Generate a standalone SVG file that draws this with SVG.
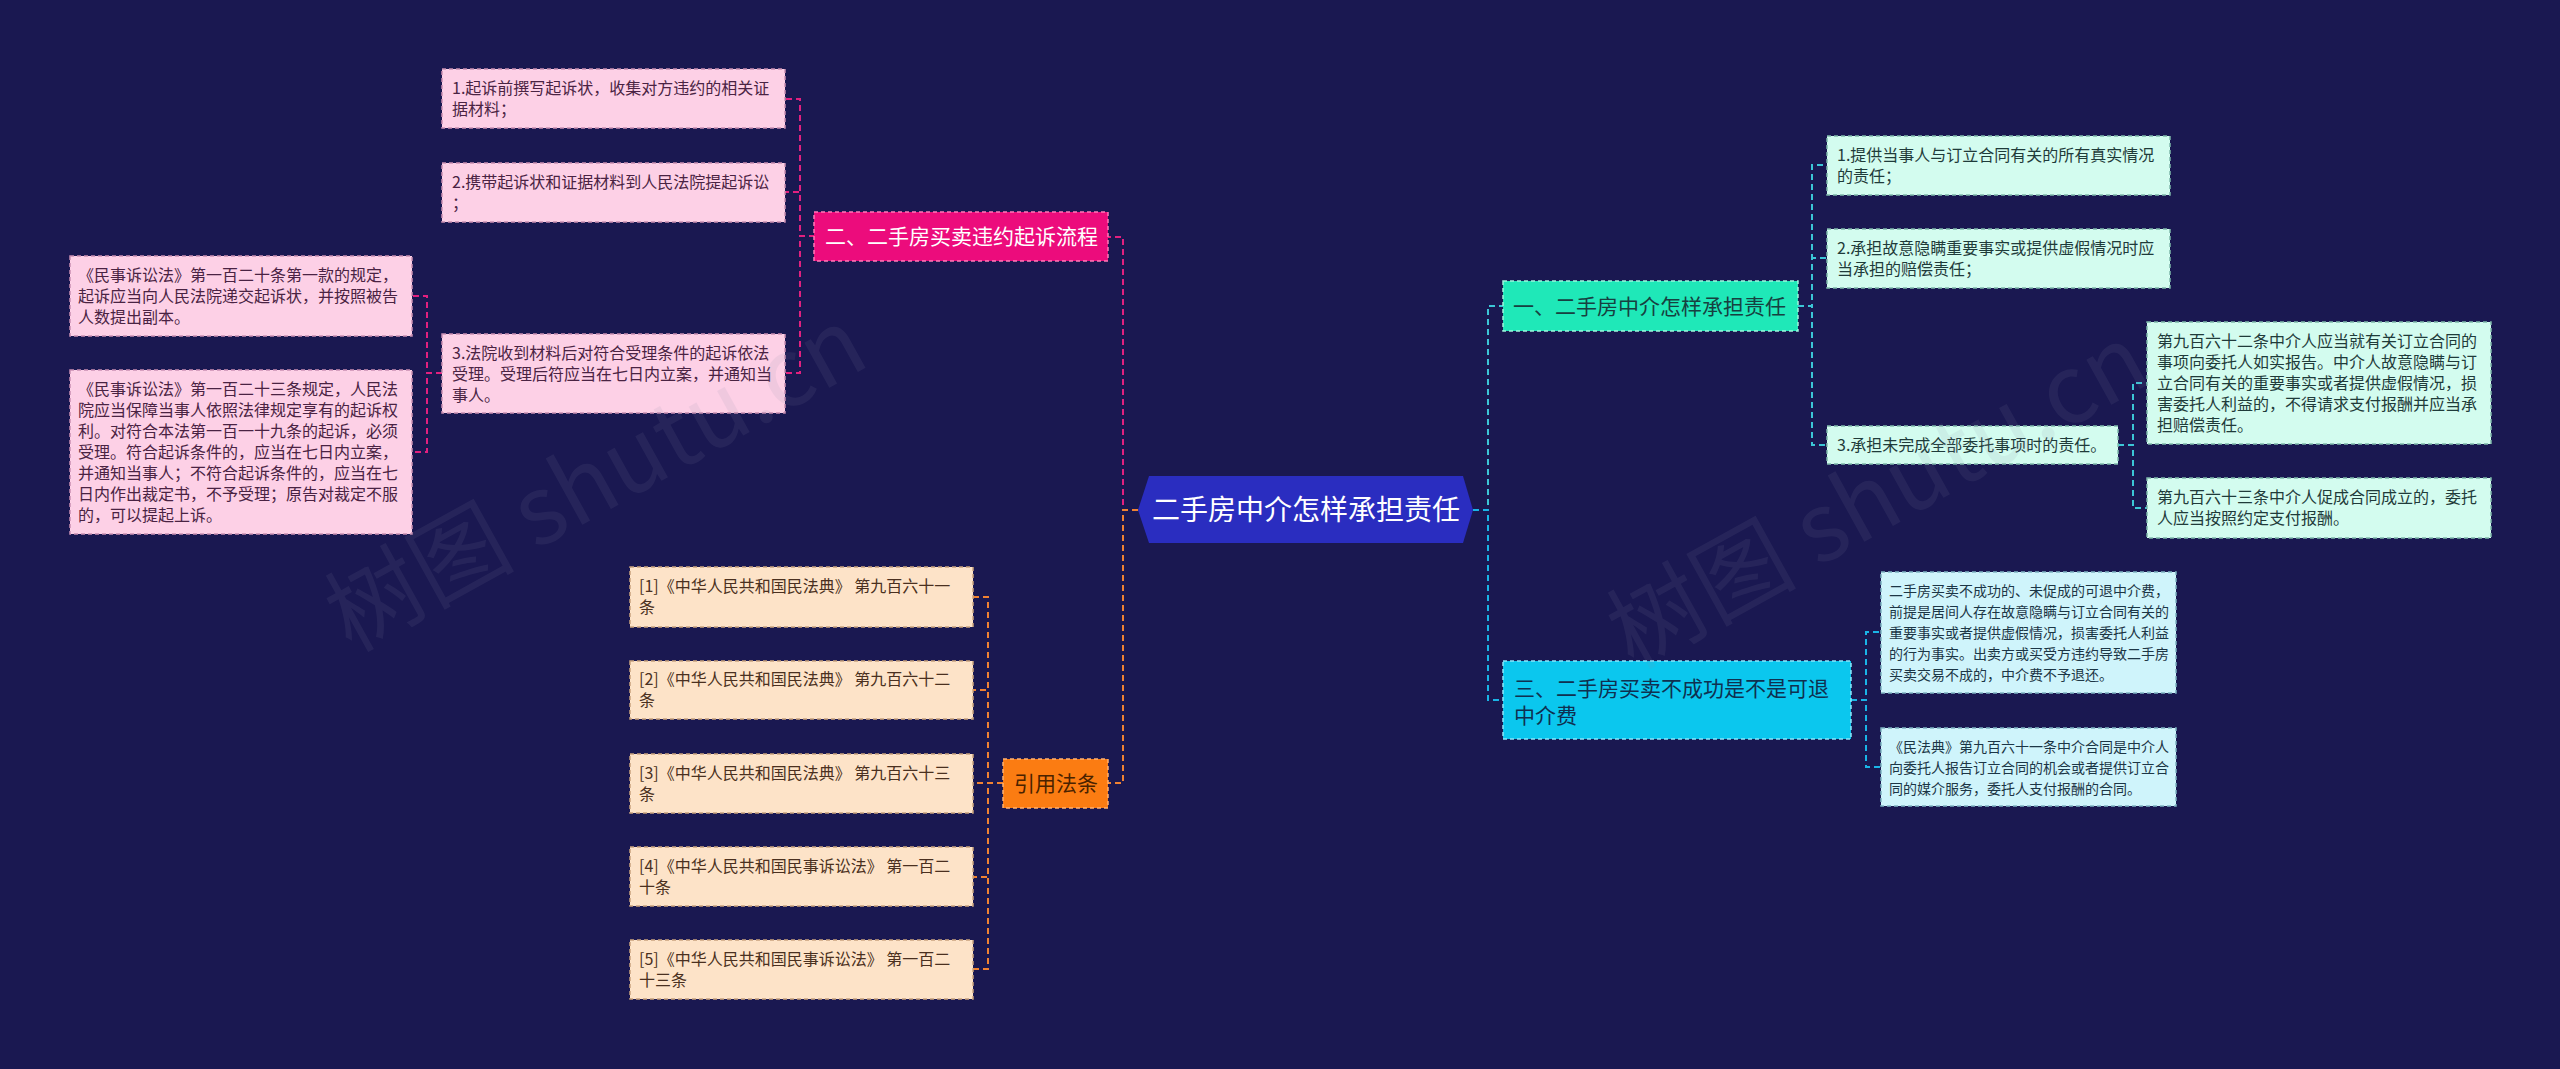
<svg xmlns="http://www.w3.org/2000/svg" width="2560" height="1069" viewBox="0 0 2560 1069">
<defs>
<style>
text{font-family:"Noto Sans CJK SC","Noto Sans",sans-serif;}
.s{font-size:16px;}
.xs{font-size:14px;}
.m{font-size:21px;}
.pk{fill:#fdd0e6;stroke:#c98fb3;stroke-width:1.5;stroke-dasharray:4 3;}
.pkt{fill:#4a2343;}
.or{fill:#fde3c8;stroke:#c9a37e;stroke-width:1.5;stroke-dasharray:4 3;}
.ort{fill:#4a3020;}
.mn{fill:#d3fcef;stroke:#7fb8aa;stroke-width:1.5;stroke-dasharray:4 3;}
.mnt{fill:#1f3b3a;}
.lb{fill:#cff4fb;stroke:#7fb2c2;stroke-width:1.5;stroke-dasharray:4 3;}
.lbt{fill:#1c3646;}
.c{fill:none;stroke-width:2;stroke-dasharray:6 4;}
.cp{stroke:#e2207f;}
.co{stroke:#f08232;}
.ct{stroke:#3cc6d6;}
.cb{stroke:#1ab4e6;}
.wm{font-size:95px;fill:#8a8aa8;opacity:0.11;}
</style>
</defs>
<rect x="0" y="0" width="2560" height="1069" fill="#1a1851"/>

<g id="connectors">
<path class="c cp" d="M1138,510 H1123 V237 H1108"/>
<path class="c co" d="M1138,510 H1123 V783 H1108"/>
<path class="c ct" d="M1473,510 H1488 V306 H1503"/>
<path class="c cb" d="M1473,510 H1488 V700 H1503"/>
<path class="c cp" d="M815,236 H800 V99 H785"/>
<path class="c cp" d="M815,236 H800 V192 H785"/>
<path class="c cp" d="M815,236 H800 V373 H785"/>
<path class="c cp" d="M442,373 H427 V296 H412"/>
<path class="c cp" d="M442,373 H427 V452 H412"/>
<path class="c co" d="M1003,783 H988 V597 H973"/>
<path class="c co" d="M1003,783 H988 V690 H973"/>
<path class="c co" d="M1003,783 H973"/>
<path class="c co" d="M1003,783 H988 V877 H973"/>
<path class="c co" d="M1003,783 H988 V969 H973"/>
<path class="c ct" d="M1798,306 H1812 V165 H1827"/>
<path class="c ct" d="M1798,306 H1812 V258 H1827"/>
<path class="c ct" d="M1798,306 H1812 V445 H1827"/>
<path class="c ct" d="M2118,445 H2133 V383 H2147"/>
<path class="c ct" d="M2118,445 H2133 V508 H2147"/>
<path class="c cb" d="M1851,700 H1866 V632 H1881"/>
<path class="c cb" d="M1851,700 H1866 V767 H1881"/>
</g>

<g id="root">
<polygon points="1138,510 1149,476 1463,476 1473,510 1463,543 1149,543" fill="#2a2dc0"/>
<text x="1306" y="520" font-size="28" fill="#ffffff" text-anchor="middle">二手房中介怎样承担责任</text>
</g>

<g id="n-pink">
<rect x="814" y="212" width="294" height="49" fill="#ec0c7c" stroke="#ff7ab8" stroke-width="1.5" stroke-dasharray="4 3"/>
<text class="m" x="825" y="244" fill="#ffffff">二、二手房买卖违约起诉流程</text>
</g>
<g id="p1">
<rect class="pk" x="442" y="69" width="343" height="59"/>
<text class="s pkt" x="452" y="94">1.起诉前撰写起诉状，收集对方违约的相关证</text>
<text class="s pkt" x="452" y="115">据材料；</text>
</g>
<g id="p2">
<rect class="pk" x="442" y="163" width="343" height="59"/>
<text class="s pkt" x="452" y="188">2.携带起诉状和证据材料到人民法院提起诉讼</text>
<text class="s pkt" x="452" y="209">；</text>
</g>
<g id="p3">
<rect class="pk" x="442" y="334" width="343" height="79"/>
<text class="s pkt" x="452" y="359">3.法院收到材料后对符合受理条件的起诉依法</text>
<text class="s pkt" x="452" y="380">受理。受理后符应当在七日内立案，并通知当</text>
<text class="s pkt" x="452" y="401">事人。</text>
</g>
<g id="pa">
<rect class="pk" x="70" y="256" width="342" height="80"/>
<text class="s pkt" x="78" y="281">《民事诉讼法》第一百二十条第一款的规定，</text>
<text class="s pkt" x="78" y="302">起诉应当向人民法院递交起诉状，并按照被告</text>
<text class="s pkt" x="78" y="323">人数提出副本。</text>
</g>
<g id="pb">
<rect class="pk" x="70" y="370" width="342" height="164"/>
<text class="s pkt" x="78" y="395">《民事诉讼法》第一百二十三条规定，人民法</text>
<text class="s pkt" x="78" y="416">院应当保障当事人依照法律规定享有的起诉权</text>
<text class="s pkt" x="78" y="437">利。对符合本法第一百一十九条的起诉，必须</text>
<text class="s pkt" x="78" y="458">受理。符合起诉条件的，应当在七日内立案，</text>
<text class="s pkt" x="78" y="479">并通知当事人；不符合起诉条件的，应当在七</text>
<text class="s pkt" x="78" y="500">日内作出裁定书，不予受理；原告对裁定不服</text>
<text class="s pkt" x="78" y="521">的，可以提起上诉。</text>
</g>

<g id="n-orange">
<rect x="1003" y="759" width="105" height="49" fill="#fb7c12" stroke="#ffb070" stroke-width="1.5" stroke-dasharray="4 3"/>
<text class="m" x="1014" y="791" fill="#4a2200">引用法条</text>
</g>
<g id="o1">
<rect class="or" x="630" y="567" width="343" height="60"/>
<text class="s ort" x="639" y="592">[1]《中华人民共和国民法典》 第九百六十一</text>
<text class="s ort" x="639" y="613">条</text>
</g>
<g id="o2">
<rect class="or" x="630" y="661" width="343" height="58"/>
<text class="s ort" x="639" y="685">[2]《中华人民共和国民法典》 第九百六十二</text>
<text class="s ort" x="639" y="706">条</text>
</g>
<g id="o3">
<rect class="or" x="630" y="754" width="343" height="59"/>
<text class="s ort" x="639" y="779">[3]《中华人民共和国民法典》 第九百六十三</text>
<text class="s ort" x="639" y="800">条</text>
</g>
<g id="o4">
<rect class="or" x="630" y="847" width="343" height="59"/>
<text class="s ort" x="639" y="872">[4]《中华人民共和国民事诉讼法》 第一百二</text>
<text class="s ort" x="639" y="893">十条</text>
</g>
<g id="o5">
<rect class="or" x="630" y="940" width="343" height="59"/>
<text class="s ort" x="639" y="965">[5]《中华人民共和国民事诉讼法》 第一百二</text>
<text class="s ort" x="639" y="986">十三条</text>
</g>

<g id="n-teal">
<rect x="1503" y="281" width="295" height="50" fill="#1fe8b8" stroke="#9ff5dc" stroke-width="1.5" stroke-dasharray="4 3"/>
<text class="m" x="1513" y="314" fill="#174040">一、二手房中介怎样承担责任</text>
</g>
<g id="t1">
<rect class="mn" x="1827" y="136" width="343" height="59"/>
<text class="s mnt" x="1837" y="161">1.提供当事人与订立合同有关的所有真实情况</text>
<text class="s mnt" x="1837" y="182">的责任；</text>
</g>
<g id="t2">
<rect class="mn" x="1827" y="229" width="343" height="59"/>
<text class="s mnt" x="1837" y="254">2.承担故意隐瞒重要事实或提供虚假情况时应</text>
<text class="s mnt" x="1837" y="275">当承担的赔偿责任；</text>
</g>
<g id="t3">
<rect class="mn" x="1827" y="426" width="291" height="38"/>
<text class="s mnt" x="1837" y="451">3.承担未完成全部委托事项时的责任。</text>
</g>
<g id="g1">
<rect class="mn" x="2147" y="322" width="344" height="122"/>
<text class="s mnt" x="2157" y="347">第九百六十二条中介人应当就有关订立合同的</text>
<text class="s mnt" x="2157" y="368">事项向委托人如实报告。中介人故意隐瞒与订</text>
<text class="s mnt" x="2157" y="389">立合同有关的重要事实或者提供虚假情况，损</text>
<text class="s mnt" x="2157" y="410">害委托人利益的，不得请求支付报酬并应当承</text>
<text class="s mnt" x="2157" y="431">担赔偿责任。</text>
</g>
<g id="g2">
<rect class="mn" x="2147" y="478" width="344" height="60"/>
<text class="s mnt" x="2157" y="503">第九百六十三条中介人促成合同成立的，委托</text>
<text class="s mnt" x="2157" y="524">人应当按照约定支付报酬。</text>
</g>

<g id="n-blue">
<rect x="1503" y="661" width="348" height="78" fill="#0bc7ee" stroke="#8ce6fa" stroke-width="1.5" stroke-dasharray="4 3"/>
<text class="m" x="1514" y="696" fill="#0f3050">三、二手房买卖不成功是不是可退</text>
<text class="m" x="1514" y="723" fill="#0f3050">中介费</text>
</g>
<g id="b1">
<rect class="lb" x="1881" y="572" width="295" height="121"/>
<text class="xs lbt" x="1889" y="596">二手房买卖不成功的、未促成的可退中介费，</text>
<text class="xs lbt" x="1889" y="617">前提是居间人存在故意隐瞒与订立合同有关的</text>
<text class="xs lbt" x="1889" y="638">重要事实或者提供虚假情况，损害委托人利益</text>
<text class="xs lbt" x="1889" y="659">的行为事实。出卖方或买受方违约导致二手房</text>
<text class="xs lbt" x="1889" y="680">买卖交易不成的，中介费不予退还。</text>
</g>
<g id="b2">
<rect class="lb" x="1881" y="728" width="295" height="78"/>
<text class="xs lbt" x="1889" y="752">《民法典》第九百六十一条中介合同是中介人</text>
<text class="xs lbt" x="1889" y="773">向委托人报告订立合同的机会或者提供订立合</text>
<text class="xs lbt" x="1889" y="794">同的媒介服务，委托人支付报酬的合同。</text>
</g>

<text class="wm" x="351" y="653" transform="rotate(-29 351 653)">树图 shutu.cn</text>
<text class="wm" x="1633" y="670" transform="rotate(-29 1633 670)">树图 shutu.cn</text>
</svg>
